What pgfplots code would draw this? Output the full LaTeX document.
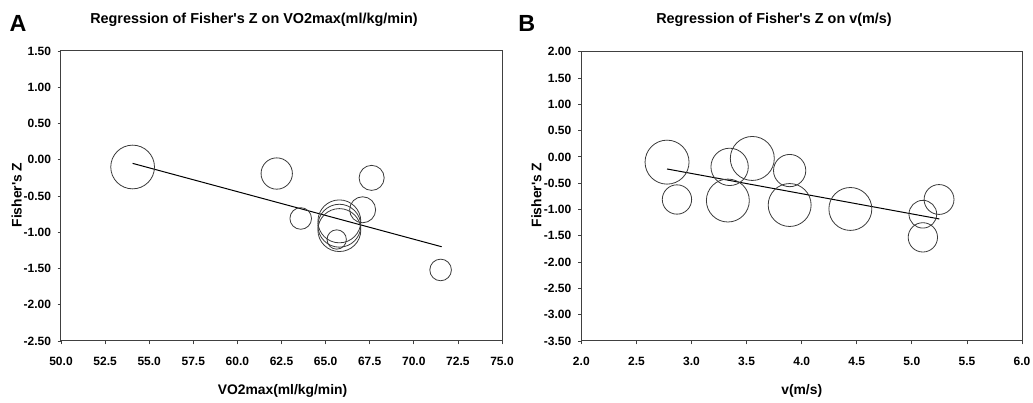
\documentclass[border=0pt]{standalone}
\usepackage{fontspec}
\setmainfont{Liberation Sans}
\usepackage{pgfplots}
\usepackage{pgfplotstable}
\pgfplotsset{compat=1.18}
\definecolor{circ}{HTML}{3A3A3A}
\definecolor{axc}{HTML}{404040}

\pgfplotstableread{
x y r
54.06 -0.10 16.4
62.23 -0.19 11.75
67.61 -0.25 9.4
67.10 -0.69 9.75
63.59 -0.81 8.1
65.78 -0.85 16.1
65.78 -0.91 16.1
65.78 -0.97 16.1
65.63 -1.10 7.25
71.52 -1.52 8.1
}\dataA

\pgfplotstableread{
x y r
2.778 -0.10 16.5
2.868 -0.81 11.0
3.346 -0.19 14.0
3.330 -0.83 16.1
3.552 -0.03 16.5
3.891 -0.26 12.1
3.891 -0.915 16.1
4.442 -0.99 16.1
5.100 -1.09 10.4
5.100 -1.53 11.0
5.247 -0.81 11.2
}\dataB

\pgfplotsset{
  panel/.style={
    scale only axis,
    anchor=south west,
    axis line style={axc, line width=0.75pt},
    tick style={axc, line width=0.6pt},
    tick align=outside,
    major tick length=2.5pt,
    xtick pos=bottom, ytick pos=left,
    scaled ticks=false,
    /pgf/number format/assume math mode=true,
    tick label style={font=\fontsize{9}{11}\selectfont\bfseries},
    yticklabel style={xshift=-1.5pt, /pgf/number format/.cd, fixed, fixed zerofill, precision=2},
    xticklabel style={yshift=-6pt, /pgf/number format/.cd, fixed, fixed zerofill, precision=1},
  },
  bubbles/.style={
    scatter, only marks, mark=o,
    scatter/use mapped color={draw=circ, fill=none},
    mark options={line width=0.6pt},
    visualization depends on={\thisrow{r} \as \rad},
    scatter/@pre marker code/.append style={/tikz/mark size=\rad pt},
  },
}

\begin{document}
\begin{tikzpicture}
\useasboundingbox (0,0) rectangle (774.75pt,302.25pt);

\begin{axis}[panel,
  at={(45.75pt,46.5pt)}, width=330.75pt, height=217.5pt,
  xmin=50, xmax=75, ymin=-2.5, ymax=1.5,
  xtick={50,52.5,...,75}, ytick={-2.5,-2,...,1.5},
]
\addplot[bubbles] table[x=x, y=y, meta=r] {\dataA};
\addplot[black, line width=0.75pt] coordinates {(54.06,-0.05) (71.58,-1.20)};
\end{axis}

\begin{axis}[panel,
  at={(436pt,46.5pt)}, width=330.5pt, height=217pt,
  xmin=2, xmax=6, ymin=-3.5, ymax=2,
  xtick={2,2.5,...,6}, ytick={-3.5,-3,...,2},
]
\addplot[bubbles] table[x=x, y=y, meta=r] {\dataB};
\addplot[black, line width=0.75pt] coordinates {(2.778,-0.23) (5.25,-1.18)};
\end{axis}

\node[anchor=base west, font=\fontsize{17.5}{20}\selectfont\bfseries, inner sep=0pt] at (7pt,278.5pt) {A};
\node[anchor=base west, font=\fontsize{17.5}{20}\selectfont\bfseries, inner sep=0pt] at (388.5pt,278.5pt) {B};

\node[anchor=base, font=\fontsize{10.8}{12}\selectfont\bfseries, inner sep=0pt] at (190.5pt,284.25pt) {Regression of Fisher\textquotesingle s Z on VO2max(ml/kg/min)};
\node[anchor=base, font=\fontsize{10.8}{12}\selectfont\bfseries, inner sep=0pt] at (580.5pt,284.25pt) {Regression of Fisher\textquotesingle s Z on v(m/s)};

\node[anchor=base, font=\fontsize{10.4}{12}\selectfont\bfseries, inner sep=0pt] at (211.9pt,6pt) {VO2max(ml/kg/min)};
\node[anchor=base, font=\fontsize{10.4}{12}\selectfont\bfseries, inner sep=0pt] at (601.3pt,6pt) {v(m/s)};

\node[anchor=base, rotate=90, font=\fontsize{10.4}{12}\selectfont\bfseries, inner sep=0pt] at (16.3pt,156pt) {Fisher\textquotesingle s Z};
\node[anchor=base, rotate=90, font=\fontsize{10.4}{12}\selectfont\bfseries, inner sep=0pt] at (406pt,156pt) {Fisher\textquotesingle s Z};
\end{tikzpicture}
\end{document}
